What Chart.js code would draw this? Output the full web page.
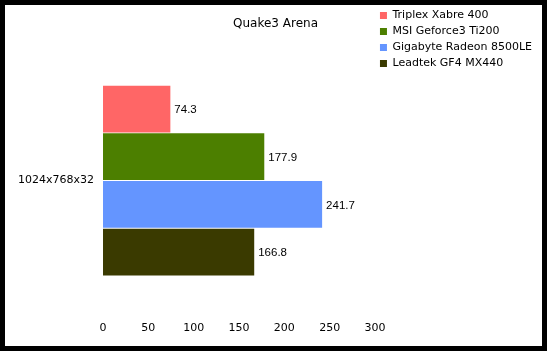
<!DOCTYPE html>
<html>
<head>
<meta charset="utf-8">
<script src="https://cdn.jsdelivr.net/npm/chart.js@4"></script>
<style>
  html, body { margin: 0; padding: 0; background: #000; }
  #wrap { position: absolute; left: 5px; top: 5px; width: 537px; height: 341px; background: #fff; }
</style>
</head>
<body>
<div id="wrap"><canvas id="chart" width="537" height="341"></canvas></div>
<script>
const categories = ['1024x768x32'];
const seriesNames = ['Triplex Xabre 400', 'MSI Geforce3 Ti200', 'Gigabyte Radeon 8500LE', 'Leadtek GF4 MX440'];
const seriesValues = [[74.3], [177.9], [241.7], [166.8]];
const seriesColors = ['#ff6666', '#4c7f00', '#6495ff', '#3a3a00'];
const xTicks = [0, 50, 100, 150, 200, 250, 300];

const valueLabels = {
    id: 'valueLabels',
    afterDatasetsDraw(chart) {
        const ctx = chart.ctx;
        ctx.save();
        ctx.font = '11.5px "Liberation Sans", Arial, sans-serif';
        ctx.fillStyle = '#000';
        ctx.textBaseline = 'middle';
        ctx.textAlign = 'left';
        chart.data.datasets.forEach((ds, i) => {
            chart.getDatasetMeta(i).data.forEach((bar, j) => {
                ctx.fillText(ds.data[j].toFixed(1), bar.x + 4, bar.y + 1);
            });
        });
        ctx.restore();
    }
};

const ctx = document.getElementById('chart');
Chart.defaults.font.family = '"DejaVu Sans", Verdana, sans-serif';
Chart.defaults.font.size = 11;
Chart.defaults.color = '#000';

new Chart(ctx, {
    type: 'bar',
    data: {
        labels: categories,
        datasets: seriesNames.map((name, i) => ({
            label: name,
            data: seriesValues[i],
            backgroundColor: seriesColors[i],
            categoryPercentage: 0.676,
            barPercentage: 0.98
        }))
    },
    options: {
        indexAxis: 'y',
        responsive: false,
        animation: false,
        layout: { padding: { left: 4, bottom: 11, top: 0, right: 0 } },
        plugins: {
            title: { display: true, text: 'Quake3 Arena', font: { weight: 'normal', size: 12 }, padding: { top: 12, bottom: 8 } },
            legend: {
                position: 'right',
                align: 'start',
                maxWidth: 220,
                labels: { boxWidth: 7, boxHeight: 7, padding: 5, font: { size: 11 } }
            },
            tooltip: { enabled: false }
        },
        scales: {
            x: {
                min: 0, max: 300,
                afterBuildTicks: (axis) => { axis.ticks = xTicks.map(v => ({ value: v })); },
                grid: { display: false, drawTicks: false },
                border: { display: false },
                ticks: { padding: 0, maxRotation: 0 }
            },
            y: {
                grid: { display: false, drawTicks: false },
                border: { display: false },
                ticks: { padding: 9 }
            }
        }
    },
    plugins: [valueLabels]
});
</script>
</body>
</html>
